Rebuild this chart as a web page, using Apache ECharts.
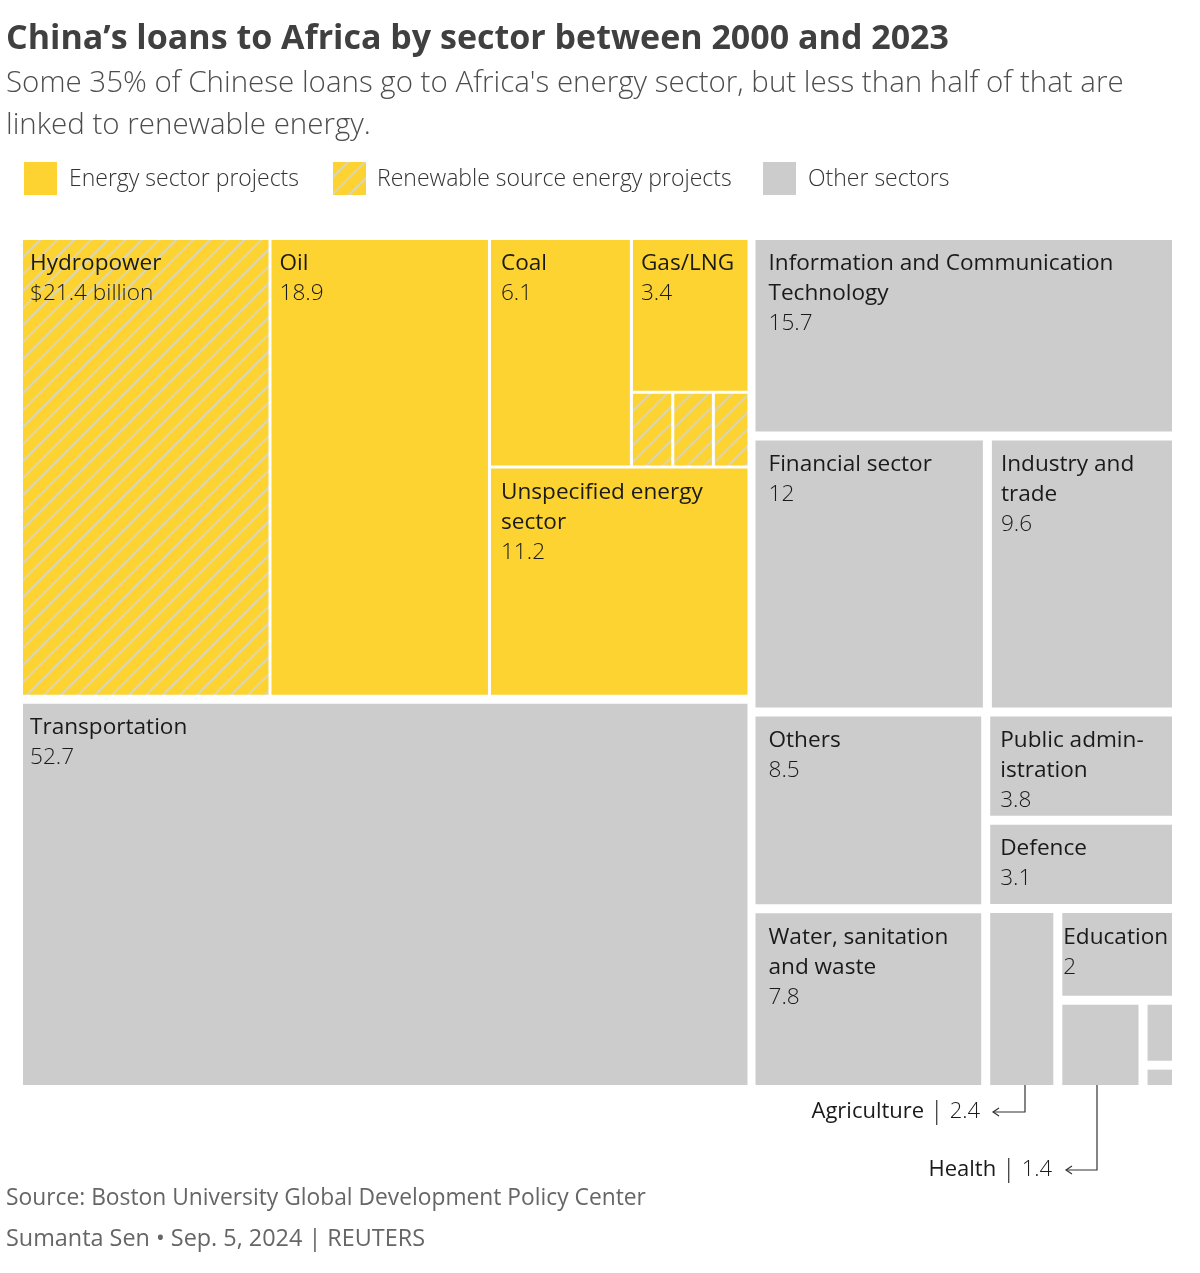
<!DOCTYPE html>
<html>
<head>
<meta charset="utf-8">
<script src="https://cdn.jsdelivr.net/npm/echarts@6/dist/echarts.min.js"></script>
<style>html,body{margin:0;padding:0;background:#fff}#c{width:1200px;height:1273px}</style>
</head>
<body>
<div id="c"></div>
<script>
// ---- Data: China's loans to Africa by sector, 2000-2023 (US$ billion) ----
const energyNames = ['Hydropower', 'Oil', 'Coal', 'Gas/LNG', 'Unspecified energy sector'];
const energyValues = [21.4, 18.9, 6.1, 3.4, 11.2];
const renewableNames = ['Renewable project A', 'Renewable project B', 'Renewable project C'];
const renewableValues = [0.58, 0.57, 0.5];
const transportName = 'Transportation';
const transportValue = 52.7;
const otherNames = ['Information and Communication Technology', 'Financial sector', 'Industry and trade',
  'Others', 'Public administration', 'Defence', 'Water, sanitation and waste',
  'Agriculture', 'Education', 'Health', 'Unlabelled sector A', 'Unlabelled sector B'];
const otherValues = [15.7, 12, 9.6, 8.5, 3.8, 3.1, 7.8, 2.4, 2, 1.4, 0.4, 0.15];
// label text as shown in the cells (line breaks as in the original)
const displayNames = {
  'Information and Communication Technology': 'Information and Communication\nTechnology',
  'Unspecified energy sector': 'Unspecified energy\nsector',
  'Industry and trade': 'Industry and\ntrade',
  'Public administration': 'Public admin-\nistration',
  'Water, sanitation and waste': 'Water, sanitation\nand waste'
};
const displayValues = { 'Hydropower': '$21.4 billion' };
const unlabelled = ['Agriculture', 'Health', 'Unlabelled sector A', 'Unlabelled sector B'].concat(renewableNames);

// ---- Styles ----
const YELLOW = '#FDD332';
const GREY = '#CCCCCC';
const FONT = 'Open Sans';
const labelIndent = {
  'Hydropower': 7, 'Transportation': 7, 'Oil': 8, 'Coal': 10, 'Gas/LNG': 8, 'Unspecified energy sector': 10,
  'Information and Communication Technology': 13, 'Financial sector': 13, 'Others': 13,
  'Water, sanitation and waste': 13, 'Industry and trade': 9, 'Public administration': 10,
  'Defence': 10, 'Education': 1
};
function makeHatch() {
  const p = 17;
  const c = document.createElement('canvas');
  c.width = p; c.height = p;
  const g = c.getContext('2d');
  g.fillStyle = YELLOW; g.fillRect(0, 0, p, p);
  g.strokeStyle = '#ddd5b0'; g.lineWidth = 2.2;
  g.beginPath();
  [0, p, 2 * p].forEach(k => { g.moveTo(-2, k + 2); g.lineTo(k + 2, -2); });
  g.stroke();
  return c;
}
const hatchCanvas = makeHatch();
const HATCH = { image: hatchCanvas, repeat: 'repeat' };

// ---- Build hierarchy ----
function leaf(name, value, color) {
  const n = { name: name, value: value, itemStyle: { color: color } };
  if (unlabelled.indexOf(name) >= 0) n.label = { show: false };
  else n.label = { padding: [9, 0, 0, labelIndent[name] != null ? labelIndent[name] : 8] };
  return n;
}
function group(name, children, gap) {
  const g = { name: name, children: children };
  if (gap != null) g.itemStyle = { gapWidth: gap };
  return g;
}
const E = i => leaf(energyNames[i], energyValues[i], i === 0 ? HATCH : YELLOW);
const R = i => leaf(renewableNames[i], renewableValues[i], HATCH);
const O = i => leaf(otherNames[i], otherValues[i], GREY);

const treeData = [
  group('Energy and transport', [
    group('Energy sector', [
      E(0),
      E(1),
      group('Coal, gas, renewables, unspecified', [
        group('Coal, gas and renewables', [
          E(2),
          group('Gas and renewables', [
            E(3),
            group('Renewables', [R(0), R(1), R(2)], 3)
          ], 3)
        ], 3),
        E(4)
      ], 3)
    ], 3),
    leaf(transportName, transportValue, GREY)
  ], 9),
  group('Other sectors', [
    group('Other A', [O(0), group('Other A2', [O(1), O(2)], 9)], 9),
    group('Other B', [
      group('Other B1', [O(3), O(6)], 9),
      group('Other B2', [
        group('Other B2a', [O(4), O(5)], 9),
        group('Other B2b', [O(7), group('Other B2c', [O(8), group('Other B2d', [O(9), group('Other B2e', [O(10), O(11)], 9)], 9)], 9)], 9)
      ], 9)
    ], 9)
  ], 9)
];

function fmtLabel(p) {
  const nm = displayNames[p.name] || p.name;
  const v = displayValues[p.name] || String(p.value);
  return nm.split('\n').map(s => '{n|' + s + '}').join('\n') + '\n{v|' + v + '}';
}

const chart = echarts.init(document.getElementById('c'), null, { renderer: 'canvas' });

function txt(x, y, text, size, color, weight, extra) {
  return {
    type: 'text', x: x, y: y, silent: true,
    style: Object.assign({ text: text, fontFamily: FONT, fontSize: size, fill: color, fontWeight: weight || 400, textVerticalAlign: 'middle' }, extra || {})
  };
}
function arrowLine(points, color) {
  const end = points[points.length - 1];
  return [
    { type: 'polyline', silent: true, shape: { points: points }, style: { stroke: color, lineWidth: 1.2, fill: null } },
    { type: 'polyline', silent: true, shape: { points: [[end[0] + 6, end[1] - 4], end, [end[0] + 6, end[1] + 4]] }, style: { stroke: color, lineWidth: 1.2, fill: null } }
  ];
}
const annRich = {
  n: { fontFamily: FONT, fontSize: 22, fontWeight: 500, fill: '#1a1a1a' },
  s: { fontFamily: FONT, fontSize: 26, fontWeight: 300, fill: '#1a1a1a' },
  v: { fontFamily: FONT, fontSize: 22, fontWeight: 300, fill: '#1a1a1a' }
};

const annColor = '#333';
const graphics = [
  txt(6, 39, 'China’s loans to Africa by sector between 2000 and 2023', 34, '#404040', 700),
  txt(6, 84, 'Some 35% of Chinese loans go to Africa\'s energy sector, but less than half of that are', 29.5, '#4d4d4d', 300),
  txt(6, 126, 'linked to renewable energy.', 29.5, '#4d4d4d', 300),
  { type: 'rect', silent: true, shape: { x: 24, y: 162, width: 33, height: 33 }, style: { fill: YELLOW } },
  txt(69, 179, 'Energy sector projects', 23, '#333', 300),
  { type: 'rect', silent: true, shape: { x: 333, y: 162, width: 33, height: 33 }, style: { fill: HATCH } },
  txt(377, 179, 'Renewable source energy projects', 23, '#333', 300),
  { type: 'rect', silent: true, shape: { x: 763, y: 162, width: 33, height: 33 }, style: { fill: GREY } },
  txt(808, 179, 'Other sectors', 23, '#333', 300),
  txt(980, 1112, '{n|Agriculture} {s||} {v|2.4}', 22, '#1a1a1a', 400, { align: 'right', rich: annRich }),
  txt(1052, 1170, '{n|Health} {s||} {v|1.4}', 22, '#1a1a1a', 400, { align: 'right', rich: annRich }),
  txt(6, 1199, 'Source: Boston University Global Development Policy Center', 22.8, '#666', 400),
  txt(6, 1239, 'Sumanta Sen • Sep. 5, 2024 | REUTERS', 23.4, '#666', 400)
].concat(
  arrowLine([[1025, 1060], [1025, 1112], [993, 1112]], annColor),
  arrowLine([[1097, 1058], [1097, 1170], [1066, 1170]], annColor)
);

chart.setOption({
  animation: false,
  backgroundColor: '#fff',
  graphic: { elements: graphics },
  series: [{
    type: 'treemap',
    left: 23, top: 240, width: 1149, height: 845,
    roam: false, nodeClick: false,
    sort: false,
    squareRatio: 1,
    breadcrumb: { show: false },
    silent: true,
    itemStyle: { borderWidth: 0, gapWidth: 9, borderColor: '#fff' },
    upperLabel: { show: false },
    label: {
      show: true,
      position: 'insideTopLeft',
      distance: 0,
      padding: [9, 0, 0, 8],
      overflow: 'none',
      formatter: fmtLabel,
      rich: {
        n: { fontFamily: FONT, fontSize: 22.6, fontWeight: 500, color: '#1a1a1a', lineHeight: 30 },
        v: { fontFamily: FONT, fontSize: 22.6, fontWeight: 300, color: '#1a1a1a', lineHeight: 30 }
      }
    },
    levels: [{ itemStyle: { gapWidth: 8, borderWidth: 0, borderColor: '#fff' } }],
    data: treeData
  }]
});
</script>
</body>
</html>
